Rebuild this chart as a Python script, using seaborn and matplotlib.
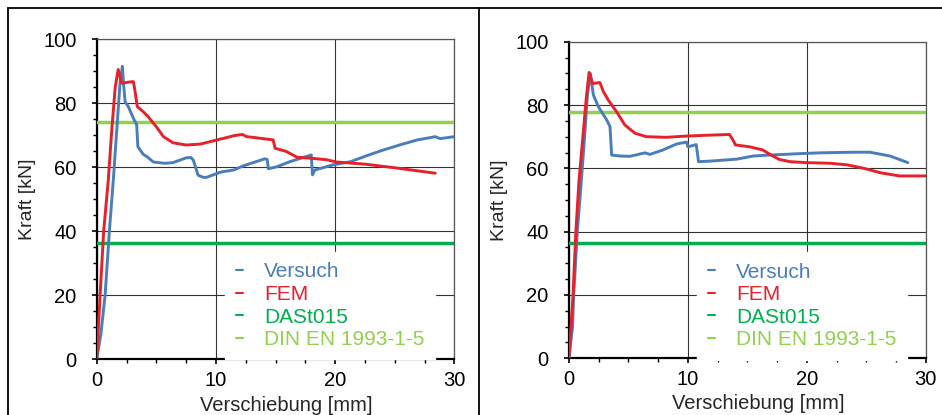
import matplotlib
matplotlib.use("Agg")
import matplotlib.pyplot as plt
import seaborn as sns
import pandas as pd
from matplotlib.lines import Line2D
from matplotlib.ticker import MultipleLocator

# --- data (Verschiebung [mm], Kraft [kN]) ---
left_versuch_x = [0, 0.35, 0.7, 1.06, 1.39, 1.68, 1.95, 2.15, 2.25, 2.38, 2.65, 3.08, 3.35, 3.45, 3.9, 4.2,
                  4.75, 5.7, 6.4, 7.5, 7.9, 8.1, 8.5, 8.95, 9.2, 10.3, 10.6, 11.5, 12.3, 14.1, 14.3, 14.4,
                  15.1, 16.2, 18.0, 18.1, 18.3, 19.8, 21.3, 22.6, 24.0, 25.4, 26.9, 28.4, 28.8, 30.0]
left_versuch_y = [0, 8, 20, 40, 56, 71.6, 86, 91.5, 86, 80.4, 78.9, 75.2, 73.2, 66.4, 64, 63.3,
                  61.6, 61.2, 61.4, 62.9, 63.0, 62.2, 57.5, 56.8, 56.8, 58.3, 58.6, 59.1, 60.4, 62.6, 62.4, 59.5,
                  60.1, 61.7, 63.8, 57.6, 59.1, 60.7, 61.7, 63.5, 65.3, 66.9, 68.5, 69.5, 68.9, 69.5]
left_fem_x = [0, 0.28, 0.58, 0.97, 1.26, 1.55, 1.8, 2.1, 2.6, 3.07, 3.2, 3.4, 3.9, 4.3, 5.0, 5.6, 6.4,
              7.5, 8.7, 10.1, 11.5, 12.2, 12.6, 13.1, 14.8, 14.96, 15.9, 16.8, 18.2, 19.3, 20.1, 22.6,
              25.4, 28.4]
left_fem_y = [0, 20, 40, 56, 71.6, 85, 90.5, 86.2, 86.5, 86.7, 84, 78.9, 77.3, 75.8, 72.6, 69.5, 67.6,
              66.9, 67.2, 68.5, 69.8, 70.2, 69.5, 69.3, 68.5, 65.9, 64.9, 63.1, 62.7, 62.3, 61.6, 60.9,
              59.6, 58.1]

right_versuch_x = [0, 0.3, 0.4, 0.7, 1.0, 1.32, 1.55, 1.8, 2.05, 2.47, 3.17, 3.45, 3.59, 4.3, 5.13,
                   6.4, 6.8, 7.9, 9.05, 9.9, 10.0, 10.7, 10.9, 11.9, 14.1, 15.5, 16.9, 19.7, 21.1, 23.9,
                   25.3, 27.0, 28.5]
right_versuch_y = [0, 10, 20, 40, 54, 70.3, 83, 90, 83.2, 79.5, 75.3, 73.2, 64.2, 63.9, 63.8,
                   64.9, 64.4, 65.8, 67.7, 68.3, 66.8, 67.5, 62.1, 62.3, 62.9, 63.9, 64.2, 64.7, 64.9, 65.1,
                   65.1, 63.9, 61.8]
right_fem_x = [0, 0.34, 0.58, 0.84, 1.18, 1.45, 1.69, 2.0, 2.6, 2.9, 3.3, 4.0, 4.7, 5.55, 6.5, 8.2,
               9.9, 11.9, 13.5, 13.8, 14.0, 15.2, 16.3, 17.0, 17.7, 18.6, 20.0, 22.0, 23.4, 24.8, 26.2,
               27.8, 30.0]
right_fem_y = [0, 20, 40, 56, 70.3, 82, 90.3, 86.8, 87.1, 84.2, 81.6, 77.9, 73.7, 71.1, 70.0, 69.8,
               70.2, 70.5, 70.7, 68.9, 67.4, 66.8, 65.8, 64.2, 62.8, 62.1, 61.8, 61.6, 61.1, 60.0, 58.6,
               57.6, 57.6]

dast015 = [36.4, 36.5]
din_en = [74.0, 77.8]

labels = ["Versuch", "FEM", "DASt015", "DIN EN 1993-1-5"]
colors = ["#4A7EBB", "#E8202A", "#00B050", "#92D050"]

sns.set_style("white")
plt.rcParams["font.family"] = ["Liberation Sans", "DejaVu Sans"]
plt.rcParams["font.size"] = 14

fig = plt.figure(figsize=(9.42, 4.15), dpi=100)
ax1 = fig.add_axes([0.1027, 0.1342, 0.3796, 0.7718])
ax2 = fig.add_axes([0.6040, 0.1366, 0.3787, 0.7629])

panels = [
    (ax1, left_versuch_x, left_versuch_y, left_fem_x, left_fem_y, dast015[0], din_en[0]),
    (ax2, right_versuch_x, right_versuch_y, right_fem_x, right_fem_y, dast015[1], din_en[1]),
]

for ax, vx, vy, fx, fy, d1, d2 in panels:
    df_v = pd.DataFrame({"x": vx, "y": vy})
    df_f = pd.DataFrame({"x": fx, "y": fy})
    sns.lineplot(data=df_v, x="x", y="y", ax=ax, color=colors[0], lw=2.1, sort=False,
                 estimator=None, label=labels[0], zorder=4)
    sns.lineplot(data=df_f, x="x", y="y", ax=ax, color=colors[1], lw=2.1, sort=False,
                 estimator=None, label=labels[1], zorder=5)
    ax.axhline(d1, color=colors[2], lw=2.5, label=labels[2], zorder=3)
    ax.axhline(d2, color=colors[3], lw=2.5, label=labels[3], zorder=3)

    ax.set_xlim(0, 30)
    ax.set_ylim(0, 100)
    ax.xaxis.set_major_locator(MultipleLocator(10))
    ax.xaxis.set_minor_locator(MultipleLocator(2.5))
    ax.yaxis.set_major_locator(MultipleLocator(20))
    ax.yaxis.set_minor_locator(MultipleLocator(5))
    ax.grid(True, which="major", color="#333333", lw=0.8, zorder=0)
    ax.set_axisbelow(True)
    ax.tick_params(which="both", direction="out", left=True, bottom=True, color="black")
    ax.tick_params(which="major", length=3.6, width=1.2, labelsize=14.5, colors="black")
    ax.tick_params(axis="y", which="major", pad=11)
    ax.tick_params(axis="x", which="major", pad=4.6)
    ax.tick_params(which="minor", length=3.2, width=1.0)
    for side in ["left", "bottom"]:
        ax.spines[side].set_color("black")
        ax.spines[side].set_linewidth(1.6)
    for side in ["top", "right"]:
        ax.spines[side].set_color("#555555")
        ax.spines[side].set_linewidth(0.9)

    ax.set_xlabel("Verschiebung [mm]", fontsize=14.5)
    ax.set_ylabel("Kraft [kN]", fontsize=14)
    ax.xaxis.label.set_va("baseline")
    ax.xaxis.set_label_coords(0.53, -0.16)
    ax.yaxis.set_label_coords(-0.17, 0.5)

    leg = ax.legend(loc="upper left", bbox_to_anchor=(0.36, 0.335), frameon=True, fancybox=False,
                    framealpha=1, edgecolor="white", facecolor="white", fontsize=15,
                    handlelength=0.35, handletextpad=1.0, labelspacing=0.17, borderpad=0.5,
                    borderaxespad=0, labelcolor="linecolor")
    for h in leg.get_lines():
        h.set_linewidth(1.5)
    leg.set_zorder(6)

# panel frames
frame = dict(transform=fig.transFigure, color="black", lw=1.3)
fig.add_artist(Line2D([8 / 942, 8 / 942], [0, 1 - 8 / 415], **frame))
fig.add_artist(Line2D([8 / 942, 1], [1 - 8 / 415, 1 - 8 / 415], **frame))
fig.add_artist(Line2D([479 / 942, 479 / 942], [0, 1 - 8 / 415], **frame))

fig.savefig("out.png", dpi=100)
